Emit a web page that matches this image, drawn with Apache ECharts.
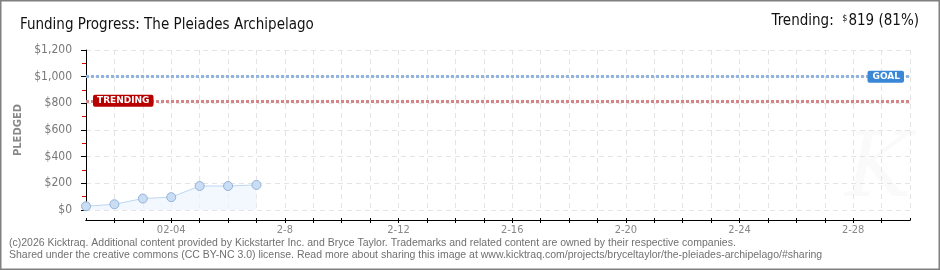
<!DOCTYPE html>
<html><head><meta charset="utf-8">
<script src="https://cdn.jsdelivr.net/npm/echarts@6/dist/echarts.min.js"></script>
<style>html,body{margin:0;padding:0;background:#fff}#c{width:940px;height:270px}</style>
</head><body><div id="c"></div>
<script>
const dayIndex = [0, 1, 2, 3, 4, 5, 6];
const pledged = [28, 43, 86, 96, 180, 180, 188];
const xTickLabels = {3: '02-04', 7: '2-8', 11: '2-12', 15: '2-16', 19: '2-20', 23: '2-24', 27: '2-28'};
const yTicks = [0, 200, 400, 600, 800, 1000, 1200];
const goal = 1000;
const trending = 819;
const titleText = 'Funding Progress: The Pleiades Archipelago';
const footer1 = '(c)2026 Kicktraq. Additional content provided by Kickstarter Inc. and Bryce Taylor. Trademarks and related content are owned by their respective companies.';
const footer2 = 'Shared under the creative commons (CC BY-NC 3.0) license. Read more about sharing this image at www.kicktraq.com/projects/bryceltaylor/the-pleiades-archipelago/#sharing';

const chart = echarts.init(document.getElementById('c'), null, {renderer: 'canvas'});
const fmtMoney = v => '$' + v.toLocaleString('en-US');
const xBase = {
  type: 'value', min: 0, max: 29, interval: 1,
  axisLine: {show: true, onZero: false, lineStyle: {color: '#000', width: 1}},
  splitLine: {show: false},
};
chart.setOption({
  animation: false,
  grid: {left: 86, right: 30, top: 50, bottom: 60},
  graphic: [
    {type: 'rect', shape: {x: 0.5, y: 0.5, width: 939, height: 269}, style: {fill: 'none', stroke: '#808080', lineWidth: 2}, z: 100},
    {type: 'text', left: 20, top: 18, style: {text: titleText, font: '15px "DejaVu Sans Condensed", sans-serif', fill: '#111'}},
    {type: 'text', right: 21, top: 14, style: {
      text: '{a|Trending:  }{s|$}{a|819 (81%)}',
      rich: {a: {font: '15px "DejaVu Sans Condensed", sans-serif', fill: '#111'}, s: {font: '9px "DejaVu Sans Condensed", sans-serif', fill: '#111', verticalAlign: 'top', padding: [0, 1, 6, 0]}}
    }},
    {type: 'text', left: 9, top: 238, style: {text: footer1, font: '10.5px "Liberation Sans", sans-serif', fill: '#707070'}},
    {type: 'text', left: 9, top: 250, style: {text: footer2, font: '10.5px "Liberation Sans", sans-serif', fill: '#707070'}},
    {type: 'text', left: 845, top: 128, style: {text: 'K', font: 'italic 90px "DejaVu Serif", serif', fill: 'rgba(0,0,0,0.018)'}, z: 0}
  ],
  xAxis: [
    Object.assign({}, xBase, {
      offset: 10,
      axisTick: {show: true, length: 3, lineStyle: {color: '#000'}},
      axisLabel: {show: true, color: '#888', fontSize: 11, fontFamily: 'DejaVu Sans Condensed', margin: 5,
        formatter: v => xTickLabels[v] || '', interval: 0, showMinLabel: false, showMaxLabel: false}
    }),
    Object.assign({}, xBase, {
      offset: 10, position: 'bottom',
      axisTick: {show: true, inside: true, length: 2, lineStyle: {color: '#000'}},
      axisLabel: {show: false}
    }),
    Object.assign({}, xBase, {
      position: 'bottom', axisLine: {show: false}, axisTick: {show: false}, axisLabel: {show: false},
      splitLine: {show: true, lineStyle: {color: '#e4e4e4', type: [5, 4], width: 1}}
    })
  ],
  yAxis: {
    type: 'value', min: 0, max: 1200, interval: 200, offset: 10,
    name: 'PLEDGED', nameLocation: 'middle', nameRotate: 90, nameGap: 46,
    nameTextStyle: {color: '#888', fontSize: 10, fontFamily: 'DejaVu Sans', fontWeight: 'bold'},
    axisLine: {show: true, lineStyle: {color: '#000'}},
    axisTick: {show: true, length: 5, lineStyle: {color: '#000'}},
    minorTick: {show: true, splitNumber: 2, length: 4, lineStyle: {color: '#e00000', width: 1}},
    axisLabel: {color: '#777', fontSize: 12, fontFamily: 'DejaVu Sans Condensed', margin: 4, formatter: v => fmtMoney(v)},
    splitLine: {show: true, lineStyle: {color: '#e4e4e4', type: [5, 4]}}
  },
  series: [{
    type: 'line', xAxisIndex: 0,
    data: dayIndex.map((d, i) => [d, pledged[i]]),
    symbol: 'circle', symbolSize: 9,
    itemStyle: {color: '#c9def5', borderColor: '#93b2d6', borderWidth: 1},
    lineStyle: {color: '#bcd5f1', width: 1},
    areaStyle: {color: '#eef5fd'},
    markLine: {
      silent: true, symbol: 'none',
      data: [
        {yAxis: goal, lineStyle: {color: '#93b4de', type: [3, 2], width: 3},
          label: {show: true, position: 'insideEnd', distance: 6, formatter: 'GOAL', color: '#fff', fontSize: 9, fontWeight: 'bold', fontFamily: 'DejaVu Sans',
            backgroundColor: '#3a87d8', padding: [2, 4, 1, 5], borderRadius: 2}},
        {yAxis: trending, lineStyle: {color: '#d48585', type: [3, 2], width: 3},
          label: {show: true, position: 'insideStart', distance: 7, formatter: 'TRENDING', color: '#fff', fontSize: 9, fontWeight: 'bold', fontFamily: 'DejaVu Sans',
            backgroundColor: '#b80000', padding: [2, 4, 1, 4], borderRadius: 2}}
      ]
    }
  }]
});
</script></body></html>
